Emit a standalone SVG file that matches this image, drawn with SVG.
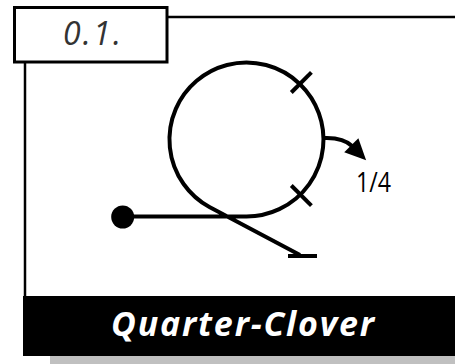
<svg xmlns="http://www.w3.org/2000/svg" width="455" height="364" viewBox="0 0 455 364">
<style>
.ln{fill:none;stroke:#000;stroke-width:4;stroke-linecap:butt}
.frame{fill:none;stroke:#000;stroke-width:2.5}
</style>
<defs>
<marker id="ah" markerWidth="22" markerHeight="22" refX="0" refY="0" orient="auto" markerUnits="userSpaceOnUse" overflow="visible">
<path d="M-1,-10 L20,0 L-1,10 Z" fill="#000"/>
</marker>
</defs>
<rect width="455" height="364" fill="#fff"/>
<g id="frame">
<line class="frame" x1="167" y1="17" x2="455" y2="17"/>
<line class="frame" x1="25" y1="62" x2="25" y2="297"/>
<rect x="50" y="356" width="405" height="8" fill="#c0c0c0"/>
<rect x="23" y="296" width="432" height="60" fill="#000"/>
</g>
<g id="label">
<rect x="14.5" y="7.5" width="152.5" height="54.5" fill="#fff" stroke="#000" stroke-width="3"/>
<text x="63" y="45" font-family="Open Sans, sans-serif" font-style="italic" font-size="32" fill="#333" textLength="58" lengthAdjust="spacing">0.1.</text>
</g>
<g id="title">
<text x="111" y="336" font-family="Open Sans, sans-serif" font-style="italic" font-weight="bold" font-size="34" fill="#fff" textLength="263" lengthAdjust="spacing">Quarter-Clover</text>
</g>
<g id="connectors">
<path class="ln" d="M123,216.5 L245.5,216.5 A77,77 0 1 0 209.4,207 L300,255"/>
<line class="ln" x1="288" y1="256" x2="317" y2="256"/>
<line class="ln" x1="291.3" y1="92.5" x2="311.4" y2="72.4"/>
<line class="ln" x1="291.3" y1="185.5" x2="311.4" y2="205.6"/>
<path class="ln" d="M323,138 Q343,137 352,146" marker-end="url(#ah)"/>
</g>
<g id="start">
<circle cx="122.7" cy="217" r="11.5" fill="#000"/>
</g>
<g id="fraction">
<text x="356" y="192" font-family="Open Sans, sans-serif" font-size="28" fill="#000" textLength="35" lengthAdjust="spacingAndGlyphs">1/4</text>
</g>
</svg>
